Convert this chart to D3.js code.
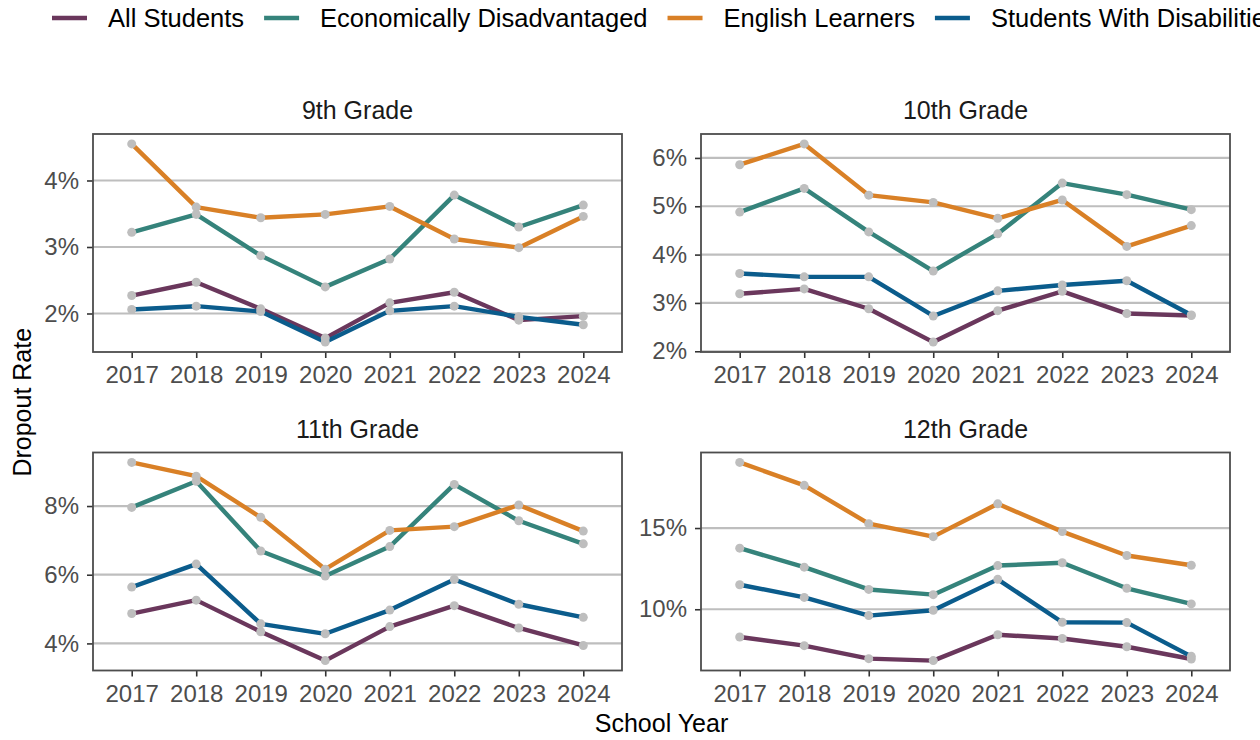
<!DOCTYPE html>
<html>
<head>
<meta charset="utf-8">
<script src="https://cdn.jsdelivr.net/npm/d3@7"></script>
<style>
  html, body { margin: 0; padding: 0; background: #fff; }
  svg { display: block; font-family: "Liberation Sans", Arial, sans-serif; }
</style>
</head>
<body>
<svg id="chart" width="1260" height="740"></svg>
<script>
// ---------------- DATA ----------------
const years = ["2017", "2018", "2019", "2020", "2021", "2022", "2023", "2024"];
const groups = ["All Students", "Economically Disadvantaged", "English Learners", "Students With Disabilities"];
const groupColors = ["#6A375C", "#35837B", "#D98026", "#0B5C8C"];
const grades = ["9th Grade", "10th Grade", "11th Grade", "12th Grade"];

// dropout rates (%)
const g9_all  = [2.27, 2.47, 2.07, 1.63, 2.16, 2.32, 1.90, 1.96];
const g9_econ = [3.22, 3.49, 2.87, 2.40, 2.82, 3.78, 3.30, 3.63];
const g9_el   = [4.55, 3.60, 3.44, 3.49, 3.61, 3.12, 2.99, 3.46];
const g9_swd  = [2.06, 2.11, 2.03, 1.57, 2.04, 2.11, 1.95, 1.83];

const g10_all  = [3.19, 3.29, 2.88, 2.19, 2.84, 3.24, 2.78, 2.74];
const g10_econ = [4.88, 5.37, 4.47, 3.66, 4.43, 5.48, 5.24, 4.93];
const g10_el   = [5.86, 6.29, 5.23, 5.08, 4.75, 5.13, 4.17, 4.60];
const g10_swd  = [3.61, 3.54, 3.54, 2.73, 3.25, 3.37, 3.46, 2.75];

const g11_all  = [4.87, 5.26, 4.34, 3.50, 4.49, 5.10, 4.45, 3.94];
const g11_econ = [7.96, 8.72, 6.69, 5.96, 6.82, 8.63, 7.57, 6.90];
const g11_el   = [9.27, 8.87, 7.67, 6.16, 7.29, 7.40, 8.03, 7.27];
const g11_swd  = [5.64, 6.31, 4.57, 4.28, 4.97, 5.86, 5.14, 4.76];

const g12_all  = [8.29, 7.76, 6.96, 6.84, 8.43, 8.20, 7.69, 6.94];
const g12_econ = [13.76, 12.59, 11.22, 10.90, 12.69, 12.86, 11.29, 10.33];
const g12_el   = [19.04, 17.63, 15.27, 14.47, 16.49, 14.78, 13.31, 12.71];
const g12_swd  = [11.51, 10.73, 9.61, 9.94, 11.84, 9.20, 9.18, 7.10];

const ticks9  = [2, 3, 4];
const ticks10 = [2, 3, 4, 5, 6];
const ticks11 = [4, 6, 8];
const ticks12 = [10, 15];

const panelData = [
  { title: grades[0], series: [g9_all, g9_econ, g9_el, g9_swd], ticks: ticks9 },
  { title: grades[1], series: [g10_all, g10_econ, g10_el, g10_swd], ticks: ticks10 },
  { title: grades[2], series: [g11_all, g11_econ, g11_el, g11_swd], ticks: ticks11 },
  { title: grades[3], series: [g12_all, g12_econ, g12_el, g12_swd], ticks: ticks12 }
];

// ---------------- LAYOUT ----------------
const svg = d3.select("#chart");
const panelW = 529, panelH = 218;
const colX = [93, 701];
const rowY = [134, 452.5];
const tickColor = "#333333";
const labelColor = "#4D4D4D";
const gridColor = "#BEBEBE";
const pointColor = "#BEBEBE";

panelData.forEach((p, i) => {
  const x0 = colX[i % 2], y0 = rowY[Math.floor(i / 2)];
  const g = svg.append("g").attr("transform", `translate(${x0},${y0})`);

  const x = d3.scalePoint().domain(years).range([0, panelW]).padding(0.6);
  const all = p.series.flat();
  const mn = d3.min(all), mx = d3.max(all), pad = (mx - mn) * 0.05;
  const y = d3.scaleLinear().domain([mn - pad, mx + pad]).range([panelH, 0]);

  // gridlines
  g.selectAll("line.grid").data(p.ticks).join("line")
    .attr("class", "grid")
    .attr("x1", 0).attr("x2", panelW)
    .attr("y1", d => y(d)).attr("y2", d => y(d))
    .attr("stroke", gridColor).attr("stroke-width", 2.2);

  // axes
  const yAxis = d3.axisLeft(y).tickValues(p.ticks).tickFormat(d => d + "%").tickSize(6).tickPadding(8);
  const gy = g.append("g").call(yAxis);
  gy.select(".domain").remove();
  gy.selectAll(".tick line").attr("stroke", tickColor).attr("stroke-width", 1.6);
  gy.selectAll(".tick text").attr("fill", labelColor).attr("font-size", 24)
    .attr("font-family", "Liberation Sans, Arial, sans-serif");

  const xAxis = d3.axisBottom(x).tickSize(6).tickPadding(8);
  const gx = g.append("g").attr("transform", `translate(0,${panelH})`).call(xAxis);
  gx.select(".domain").remove();
  gx.selectAll(".tick line").attr("stroke", tickColor).attr("stroke-width", 1.6);
  gx.selectAll(".tick text").attr("fill", labelColor).attr("font-size", 24)
    .attr("font-family", "Liberation Sans, Arial, sans-serif");

  // lines
  const line = d3.line().x((d, j) => x(years[j])).y(d => y(d));
  p.series.forEach((s, k) => {
    g.append("path").datum(s)
      .attr("d", line)
      .attr("fill", "none")
      .attr("stroke", groupColors[k])
      .attr("stroke-width", 4.4)
      .attr("stroke-linejoin", "round")
      .attr("stroke-linecap", "butt");
  });
  // points
  p.series.forEach((s) => {
    g.selectAll(null).data(s).join("circle")
      .attr("cx", (d, j) => x(years[j]))
      .attr("cy", d => y(d))
      .attr("r", 4.5)
      .attr("fill", pointColor);
  });

  // border
  g.append("rect").attr("x", 0).attr("y", 0).attr("width", panelW).attr("height", panelH)
    .attr("fill", "none").attr("stroke", "#4D4D4D").attr("stroke-width", 1.8);

  // strip title
  g.append("text").attr("x", panelW / 2).attr("y", -15)
    .attr("text-anchor", "middle").attr("font-size", 25).attr("fill", "#1A1A1A")
    .text(p.title);
});

// axis titles
svg.append("text")
  .attr("transform", `translate(31,${(rowY[0] + rowY[1] + panelH) / 2}) rotate(-90)`)
  .attr("text-anchor", "middle").attr("font-size", 25).attr("fill", "#000")
  .text("Dropout Rate");
svg.append("text")
  .attr("x", (colX[0] + colX[1] + panelW) / 2).attr("y", 732)
  .attr("text-anchor", "middle").attr("font-size", 25).attr("fill", "#000")
  .text("School Year");

// legend (last entry runs past the right edge, as in the reference)
const leg = svg.append("g");
let lx = 52;
groups.forEach((name, k) => {
  leg.append("line").attr("x1", lx).attr("x2", lx + 35).attr("y1", 18).attr("y2", 18)
    .attr("stroke", groupColors[k]).attr("stroke-width", 4.4);
  const t = leg.append("text").attr("x", lx + 56).attr("y", 27)
    .attr("font-size", 25.5).attr("fill", "#000").text(name);
  lx = lx + 56 + t.node().getComputedTextLength() + 20;
});
</script>
</body>
</html>
